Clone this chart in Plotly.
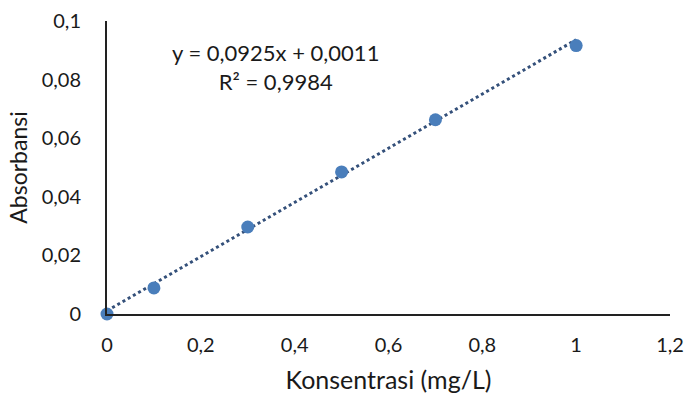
import plotly.graph_objects as go

konsentrasi = [0, 0.1, 0.3, 0.5, 0.7, 1.0]
absorbansi = [0.0, 0.0089, 0.0297, 0.0485, 0.0663, 0.0916]
slope = 0.0925
intercept = 0.0011
trend_x = [0, 1.0]
trend_y = [intercept + slope * v for v in trend_x]
x_ticks = [0, 0.2, 0.4, 0.6, 0.8, 1.0, 1.2]
x_labels = ["0", "0,2", "0,4", "0,6", "0,8", "1", "1,2"]
y_ticks = [0, 0.02, 0.04, 0.06, 0.08, 0.1]
y_labels = ["0", "0,02", "0,04", "0,06", "0,08", "0,1"]

font = "Lato, Open Sans, sans-serif"
txt = "#1a1a1a"

fig = go.Figure()
fig.add_trace(go.Scatter(x=trend_x, y=trend_y, mode="lines",
                         line=dict(color="#34507a", width=3, dash="dot"),
                         hoverinfo="skip", cliponaxis=False))
fig.add_trace(go.Scatter(x=konsentrasi, y=absorbansi, mode="markers",
                         marker=dict(color="#4a7ebb", size=13),
                         cliponaxis=False))

fig.add_annotation(x=0.36, y=0.0843, xref="x", yref="y",
                   text="y = 0,0925x + 0,0011<br>R² = 0,9984",
                   showarrow=False, font=dict(family=font, size=22, color=txt),
                   align="center")

fig.update_layout(
    width=687, height=403,
    margin=dict(l=107, r=17, t=21, b=89),
    paper_bgcolor="white", plot_bgcolor="white",
    showlegend=False,
    font=dict(family=font, size=20, color=txt),
    xaxis=dict(range=[0, 1.2], tickvals=x_ticks, ticktext=x_labels,
               showgrid=False, zeroline=False, showline=True,
               linecolor="#222", linewidth=2, ticks="", automargin=False,
               ticklabelstandoff=12,
               title=dict(text="Konsentrasi (mg/L)", standoff=16,
                          font=dict(family=font, size=25))),
    yaxis=dict(range=[0, 0.1], tickvals=y_ticks, ticktext=y_labels,
               showgrid=False, zeroline=False, showline=True,
               linecolor="#222", linewidth=2, ticks="", automargin=False,
               ticklabelstandoff=20,
               title=dict(text="Absorbansi", standoff=8,
                          font=dict(family=font, size=23))),
)

fig.write_html("out.html")
